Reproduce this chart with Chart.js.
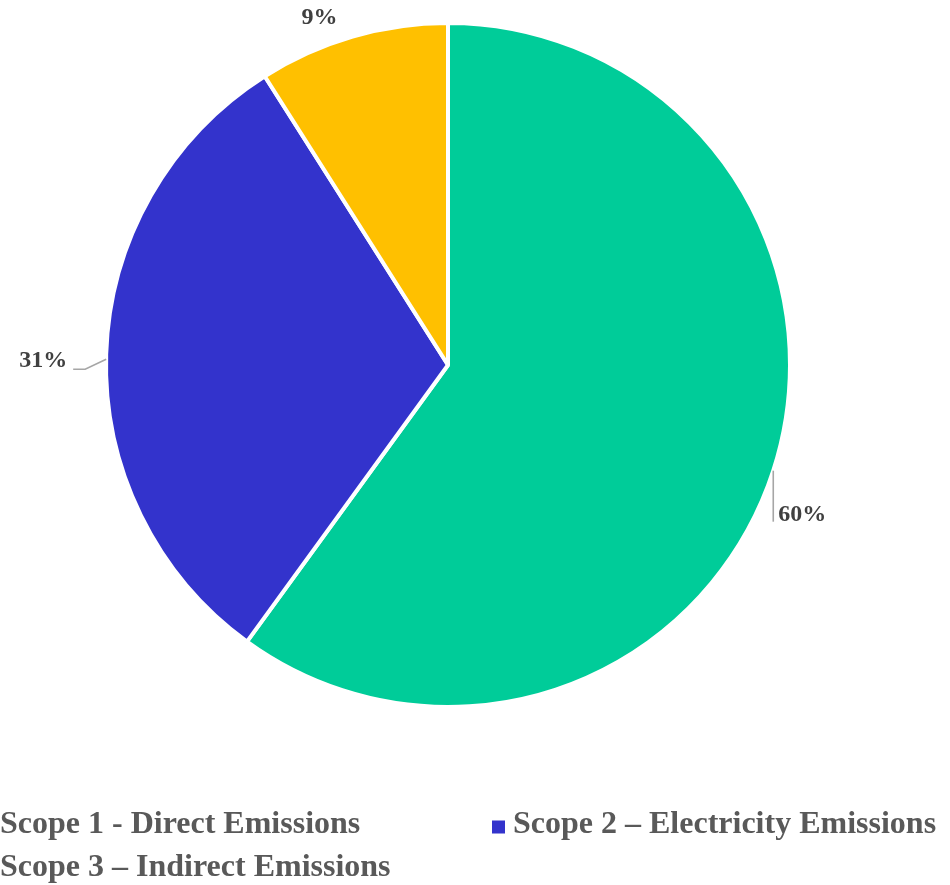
<!DOCTYPE html>
<html>
<head>
<meta charset="utf-8">
<title>Emissions by Scope</title>
<script src="https://cdn.jsdelivr.net/npm/chart.js@4/dist/chart.umd.min.js"></script>
<style>
  html, body { margin: 0; padding: 0; background: #ffffff; }
  #wrap { width: 950px; height: 885px; position: relative; overflow: hidden; }
</style>
</head>
<body>
<div id="wrap"><canvas id="chart" width="950" height="885"></canvas></div>
<script>
// Emission share by scope (percent of total)
const categories = [
  'Scope 1 - Direct Emissions',
  'Scope 2 \u2013 Electricity Emissions',
  'Scope 3 \u2013 Indirect Emissions'
];
const shares = [60, 31, 9];
const sliceColors = ['#00CC99', '#3333CC', '#FFC000'];

// Where each percentage label sits relative to the outer edge of its slice
const labelPlacement = [
  { dx: 5,   dy: 44,  align: 'left',   leader: [[0, 0], [0, 51]] },
  { dx: -39, dy: 7,   align: 'right',  leader: [[0, 5], [-21, 15], [-33, 15]] },
  { dx: -33, dy: -19, align: 'center', leader: null }
];

const serif = '"Liberation Serif", "Times New Roman", Times, serif';

const sliceLabels = {
  id: 'sliceLabels',
  afterDatasetsDraw(chart) {
    const ctx = chart.ctx;
    const meta = chart.getDatasetMeta(0);
    const data = chart.data.datasets[0].data;
    meta.data.forEach((arc, i) => {
      const { x, y, startAngle, endAngle, outerRadius } = arc.getProps(['x', 'y', 'startAngle', 'endAngle', 'outerRadius'], true);
      const mid = (startAngle + endAngle) / 2;
      const ex = x + Math.cos(mid) * outerRadius;
      const ey = y + Math.sin(mid) * outerRadius;
      const p = labelPlacement[i];
      ctx.save();
      if (p.leader) {
        ctx.strokeStyle = '#A6A6A6';
        ctx.lineWidth = 1.6;
        ctx.beginPath();
        p.leader.forEach(([lx, ly], k) => {
          if (k === 0) ctx.moveTo(ex + lx, ey + ly); else ctx.lineTo(ex + lx, ey + ly);
        });
        ctx.stroke();
      }
      ctx.fillStyle = '#404040';
      ctx.font = 'bold 24px ' + serif;
      ctx.textAlign = p.align;
      ctx.textBaseline = 'middle';
      ctx.fillText(data[i] + '%', ex + p.dx, ey + p.dy);
      ctx.restore();
    });
  }
};

// Two-column legend under the pie
const bottomLegend = {
  id: 'bottomLegend',
  afterDraw(chart) {
    const ctx = chart.ctx;
    const labels = chart.data.labels;
    const colors = chart.data.datasets[0].backgroundColor;
    const firstMarkerX = -21, colWidth = 513, rowY = [824, 867], box = 13;
    ctx.save();
    ctx.font = 'bold 32px ' + serif;
    ctx.textBaseline = 'middle';
    ctx.textAlign = 'left';
    labels.forEach((label, i) => {
      const col = i % 2, row = Math.floor(i / 2);
      const mx = firstMarkerX + col * colWidth;
      const my = rowY[row];
      ctx.fillStyle = colors[i];
      ctx.fillRect(mx, my - box / 2 + 3, box, box);
      ctx.fillStyle = '#595959';
      ctx.fillText(label, mx + 21, my + 1);
    });
    ctx.restore();
  }
};

new Chart(document.getElementById('chart'), {
  type: 'pie',
  data: {
    labels: categories,
    datasets: [{
      data: shares,
      backgroundColor: sliceColors,
      borderColor: '#ffffff',
      borderWidth: 4
    }]
  },
  options: {
    responsive: false,
    animation: false,
    events: [],
    layout: { padding: { left: 104, right: 158, top: 21, bottom: 176 } },
    plugins: {
      legend: { display: false },
      tooltip: { enabled: false }
    }
  },
  plugins: [sliceLabels, bottomLegend]
});
</script>
</body>
</html>
